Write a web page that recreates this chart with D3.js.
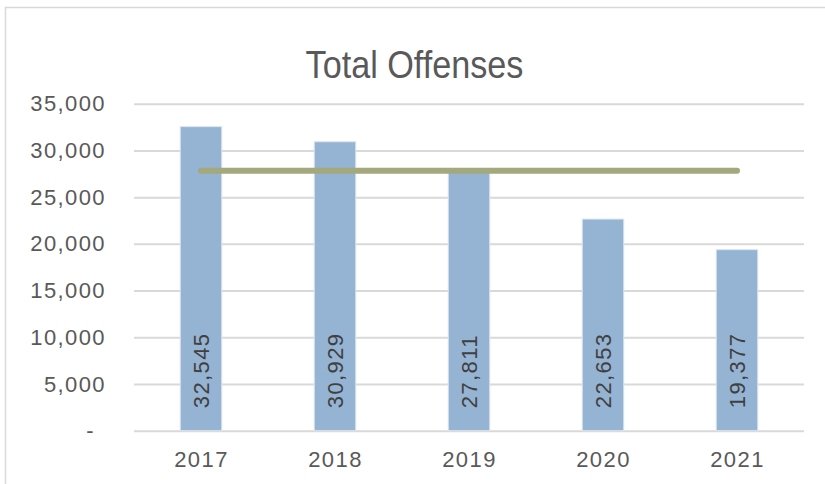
<!DOCTYPE html>
<html>
<head>
<meta charset="utf-8">
<script src="https://cdn.jsdelivr.net/npm/d3@7"></script>
<style>
  html, body { margin: 0; padding: 0; background: #fff; }
  svg { display: block; }
</style>
</head>
<body>
<svg id="chart" width="825" height="484"></svg>
<script>
const title = "Total Offenses";
const years = ["2017", "2018", "2019", "2020", "2021"];
const offenses = [32545, 30929, 27811, 22653, 19377];
const reference = [27830, 27830, 27830, 27830, 27830];
const yTicks = [0, 5000, 10000, 15000, 20000, 25000, 30000, 35000];

const svg = d3.select("#chart");
const W = 825, H = 484;
const plot = { left: 134, right: 804, top: 103.7, bottom: 430.7 };

// outer frame (left + top edges visible)
svg.append("path")
  .attr("d", `M5.5,${H + 2} L5.5,7.5 L${W + 2},7.5`)
  .attr("fill", "none")
  .attr("stroke", "#d9d9d9")
  .attr("stroke-width", 1.5);

const x = d3.scaleBand().domain(years).range([plot.left, plot.right])
  .paddingInner(0.69).paddingOuter(0.345);
const xc = d3.scalePoint().domain(years).range([plot.left, plot.right]).padding(0.5);
const y = d3.scaleLinear().domain([0, 35000]).range([plot.bottom, plot.top]);

const font = "'Liberation Sans', Arial, sans-serif";

// gridlines
const yAxis = d3.axisLeft(y).tickValues(yTicks)
  .tickSize(-(plot.right - plot.left))
  .tickPadding(28)
  .tickFormat(d => d === 0 ? "-" : d3.format(",")(d));
const gy = svg.append("g").attr("transform", `translate(${plot.left},0)`).call(yAxis);
gy.select(".domain").remove();
gy.selectAll(".tick line").attr("stroke", "#d9d9d9").attr("stroke-width", 2);
gy.selectAll(".tick text")
  .attr("fill", "#595959")
  .style("font-family", font)
  .style("font-size", "22px")
  .style("letter-spacing", "1.4px")
  .attr("dx", d => d === 0 ? -11 : 0);

// bars
svg.append("g").selectAll("rect")
  .data(years.map((yr, i) => ({ yr, v: offenses[i] })))
  .join("rect")
  .attr("x", d => x(d.yr))
  .attr("y", d => y(d.v))
  .attr("width", x.bandwidth())
  .attr("height", d => y(0) - y(d.v))
  .attr("fill", "#95b3d3")
  .attr("stroke", "#dce6f0")
  .attr("stroke-width", 1);

// reference line
const line = d3.line().x((d, i) => xc(years[i])).y(d => y(d));
svg.append("path")
  .datum(reference)
  .attr("d", line)
  .attr("fill", "none")
  .attr("stroke", "#a3a87d")
  .attr("stroke-width", 6)
  .attr("stroke-linecap", "round");

// data labels (rotated, inside base)
svg.append("g").selectAll("text")
  .data(years.map((yr, i) => ({ yr, v: offenses[i] })))
  .join("text")
  .attr("transform", d => `translate(${xc(d.yr)},${y(0) - 22.5}) rotate(-90)`)
  .attr("text-anchor", "start")
  .attr("dy", "0.36em")
  .attr("fill", "#404040")
  .style("font-family", font)
  .style("font-size", "22px")
  .style("letter-spacing", "1.4px")
  .text(d => d3.format(",")(d.v));

// x axis labels
const xAxis = d3.axisBottom(xc).tickSize(0).tickPadding(0);
const gx = svg.append("g").attr("transform", `translate(0,${plot.bottom})`).call(xAxis);
gx.select(".domain").remove();
gx.selectAll(".tick text")
  .attr("y", 36.5)
  .attr("dy", 0)
  .attr("fill", "#595959")
  .style("font-family", font)
  .style("font-size", "22px")
  .style("letter-spacing", "1.4px");

// title (condensed look via horizontal scale)
svg.append("text")
  .attr("transform", "translate(414.5,78.3) scale(0.9,1)")
  .attr("text-anchor", "middle")
  .attr("fill", "#595959")
  .style("font-family", "'Liberation Sans', Arial, sans-serif")
  .style("font-size", "38px")
  .text(title);
</script>
</body>
</html>
